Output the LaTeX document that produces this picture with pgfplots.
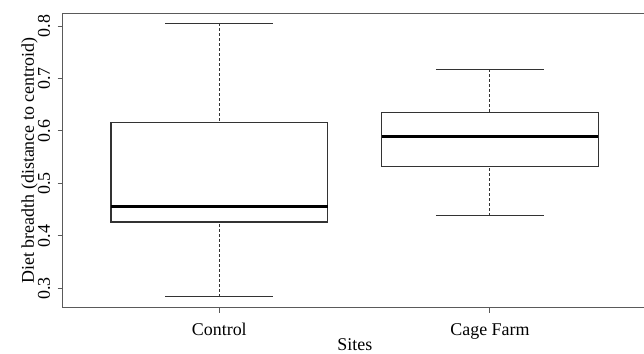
\documentclass[border=0pt]{standalone}
\usepackage{pgfplots}
\pgfplotsset{compat=1.18}
\usepgfplotslibrary{statistics}
\usepackage{fontspec}
\setmainfont{Liberation Serif}
\definecolor{boxcol}{HTML}{333333}
\definecolor{axcol}{HTML}{5A5A5A}
\pgfplotsset{
  boxplot/draw/lower whisker/.code={%
    \draw[boxcol, line width=1bp, dash pattern=on 3bp off 2bp]
      (boxplot cs:\pgfplotsboxplotvalue{lower whisker})
      -- (boxplot cs:\pgfplotsboxplotvalue{lower quartile});
    \draw[boxcol, line width=1.2bp]
      (boxplot whisker cs:\pgfplotsboxplotvalue{lower whisker},0)
      -- (boxplot whisker cs:\pgfplotsboxplotvalue{lower whisker},1);
  },
  boxplot/draw/upper whisker/.code={%
    \draw[boxcol, line width=1bp, dash pattern=on 3bp off 2bp]
      (boxplot cs:\pgfplotsboxplotvalue{upper whisker})
      -- (boxplot cs:\pgfplotsboxplotvalue{upper quartile});
    \draw[boxcol, line width=1.2bp]
      (boxplot whisker cs:\pgfplotsboxplotvalue{upper whisker},0)
      -- (boxplot whisker cs:\pgfplotsboxplotvalue{upper whisker},1);
  },
  boxplot/draw/box/.code={%
    \draw[boxcol, line width=1.1bp]
      (boxplot box cs:\pgfplotsboxplotvalue{lower quartile},0)
      rectangle
      (boxplot box cs:\pgfplotsboxplotvalue{upper quartile},1);
  },
  boxplot/draw/median/.code={%
    \draw[black, line width=3bp]
      (boxplot box cs:\pgfplotsboxplotvalue{median},0)
      -- (boxplot box cs:\pgfplotsboxplotvalue{median},1);
  },
}
\begin{document}
\begin{tikzpicture}
\begin{axis}[
  scale only axis,
  width=584.3bp, height=294.4bp,
  xmin=0.4215, xmax=2.58,
  ymin=0.2634, ymax=0.8242,
  axis line style={axcol, line width=1.2bp},
  xtick={1,2}, xticklabels={Control, Cage Farm},
  ytick={0.3,0.4,0.5,0.6,0.7,0.8},
  yticklabel style={/pgf/number format/fixed, /pgf/number format/precision=1, /pgf/number format/fixed zerofill},
  /pgf/number format/assume math mode=true,
  tick align=outside, tickwidth=5bp,
  xtick pos=bottom, ytick pos=left,
  major tick style={axcol, line width=1bp},
  tick label style={font=\fontsize{18}{20}\selectfont},
  xticklabel style={anchor=base, yshift=-22.3bp},
  yticklabel style={rotate=90, anchor=base, yshift=7.7bp},
  label style={font=\fontsize{18}{20}\selectfont},
  xlabel={Sites},
  ylabel={Diet breadth (distance to centroid)},
  xlabel style={at={(axis description cs:0.5,0)}, anchor=base, yshift=-43bp},
  ylabel style={at={(axis description cs:0,0.5)}, anchor=base, yshift=28.7bp},
  boxplot/draw direction=y,
  boxplot/box extend=0.8,
  boxplot/whisker extend=0.4,
  clip=false,
]
\addplot+[boxplot prepared={draw position=1, lower whisker=0.2844, lower quartile=0.4267, median=0.457, upper quartile=0.617, upper whisker=0.805}, mark=none] coordinates {};
\addplot+[boxplot prepared={draw position=2, lower whisker=0.4387, lower quartile=0.532, median=0.5886, upper quartile=0.6352, upper whisker=0.7175}, mark=none] coordinates {};
\coordinate (sw) at (rel axis cs:0,0);
\end{axis}
\pgfresetboundingbox
\useasboundingbox ([shift={(-62.7bp,-46.3bp)}]sw) rectangle ([shift={(581.3bp,307.7bp)}]sw);
\end{tikzpicture}
\end{document}
